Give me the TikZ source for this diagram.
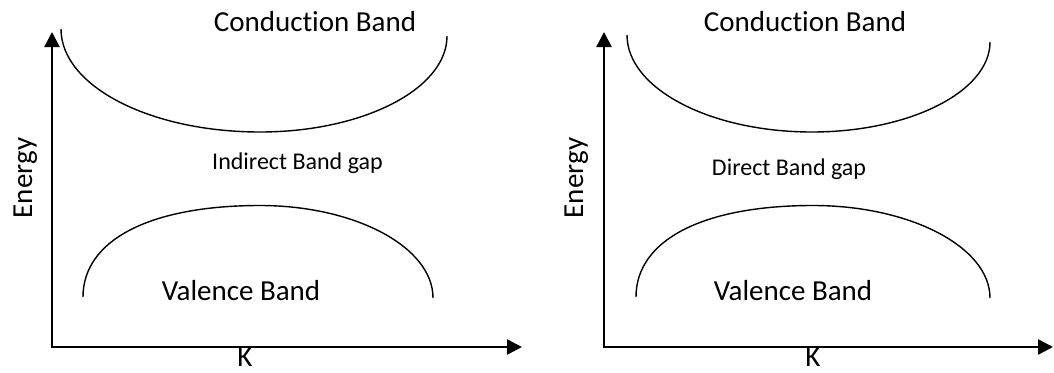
\documentclass[tikz,border=0pt]{standalone}
\usepackage{fontspec}
\setmainfont[Ligatures={NoCommon}]{Carlito}
\usetikzlibrary{arrows.meta}

\begin{document}
\begin{tikzpicture}[
    x=1pt, y=-1pt,
    axis/.style={line width=2.5pt, line join=miter, {Triangle[length=15pt, width=15pt]}-{Triangle[length=15pt, width=15pt]}},
    band/.style={line width=1.4pt},
    bandtext/.style={anchor=base, inner sep=0pt, font=\fontsize{29}{34}\selectfont},
    gaptext/.style={anchor=base, inner sep=0pt, font=\fontsize{24}{28}\selectfont}
]
    \useasboundingbox (0,0) rectangle (1054,372);

    % left panel: indirect gap
    \coordinate (originL) at (52,347);
    \coordinate (ytipL) at (52,32);
    \coordinate (xtipL) at (522,347);
    \draw [axis] (ytipL) -- (originL) -- (xtipL);
    \draw [band] (61,29) .. controls (61,86) and (150,132) .. (260,132)
        .. controls (363,132) and (447,89) .. (447,36);
    \draw [band] (83,297) .. controls (83,240) and (150,205.5) .. (260,205.5)
        .. controls (355,205.5) and (433,247) .. (433,298);
    \node (condL) [bandtext] at (315,31) {Conduction Band};
    \node (gapL) [gaptext] at (297.5,169.3) {Indirect Band gap};
    \node (valL) [bandtext] at (241,300.7) {Valence Band};
    \node (energyL) [bandtext, rotate=90] at (32,178) {Energy};
    \node (kL) [bandtext] at (245,366) {K};

    % right panel: direct gap
    \coordinate (originR) at (604,347);
    \coordinate (ytipR) at (604,32);
    \coordinate (xtipR) at (1053,347);
    \draw [axis] (ytipR) -- (originR) -- (xtipR);
    \draw [band] (627,35) .. controls (627,88.5) and (710,132) .. (812,132)
        .. controls (910,132) and (990,91.4) .. (990,42);
    \draw [band] (636,297) .. controls (636,240) and (703,205.5) .. (813,205.5)
        .. controls (910,205.5) and (990,247) .. (990,298);
    \node (condR) [bandtext] at (805,31) {Conduction Band};
    \node (gapR) [gaptext] at (789,175) {Direct Band gap};
    \node (valR) [bandtext] at (793,300) {Valence Band};
    \node (energyR) [bandtext, rotate=90] at (583,178) {Energy};
    \node (kR) [bandtext] at (813,366) {K};
\end{tikzpicture}
\end{document}
